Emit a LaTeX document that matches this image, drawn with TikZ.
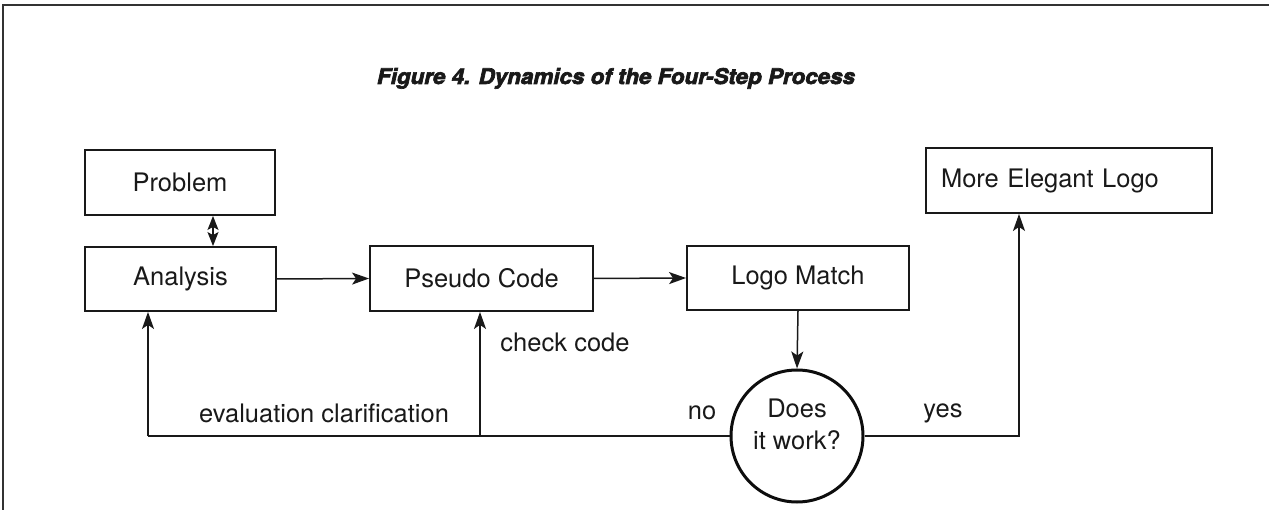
\documentclass[tikz,border=0pt]{standalone}
\usepackage{fontspec}
\setmainfont{TeX Gyre Heros}
\newfontfamily\heavyfont{TeX Gyre Heros}[FakeBold=3]
\usetikzlibrary{arrows.meta}
\begin{document}
\begin{tikzpicture}[x=1pt,y=-1pt,
  every node/.style={font=\fontsize{25.5}{30}\selectfont, text=black!90},
  stepbox/.style={draw=black!90, line width=1.9pt, rectangle, inner sep=0pt},
  flow/.style={draw=black!90, line width=1.5pt, -{Stealth[length=17pt,width=12pt,inset=4pt]}},
  plain/.style={draw=black!90, line width=1.5pt},
  lbl/.style={inner sep=0pt}
]
\useasboundingbox (0,0) rectangle (1269,510);
% page frame: top rule and left rule
\draw[black!80, line width=1.8pt] (3,510) -- (3,5) -- (1269,5);

% title
\node[inner sep=0pt, anchor=base] (title) at (616,84)
  {\resizebox{478pt}{16pt}{\heavyfont\bfseries\itshape Figure 4. Dynamics of the Four-Step Process}};

% process boxes
\node[stepbox, minimum width=190pt, minimum height=65pt] (problem) at (180,182.5) {Problem};
\node[stepbox, minimum width=191pt, minimum height=64pt] (analysis) at (180.5,279) {Analysis};
\node[stepbox, minimum width=223pt, minimum height=65pt] (pseudo) at (481.5,278.5) {Pseudo Code};
\node[stepbox, minimum width=222pt, minimum height=64pt] (match) at (798,278) {Logo Match};
\node[stepbox, minimum width=286pt, minimum height=65pt, text width=256pt, align=left, inner xsep=15pt] (elegant) at (1069,180.5) {More Elegant Logo};

% decision
\node[draw=black!95, line width=3pt, circle, minimum size=132pt, inner sep=0pt] (test) at (797,436) {};
\node[align=center, inner sep=0pt, font=\fontsize{25.5}{32}\selectfont] (testtext) at (797,424) {Does\\it work?};

% junction points of the feedback lines
\coordinate (jleft) at (148,436);
\coordinate (jmid) at (480,436);
\coordinate (jright) at (1019,436);

% forward flow
\draw[plain, {Stealth[length=14pt,width=11pt,inset=3pt]}-{Stealth[length=14pt,width=11pt,inset=3pt]}] (problem.south -| 213,0) -- (analysis.north -| 213,0);
\draw[flow] (analysis.east) -- (pseudo.west);
\draw[flow] (pseudo.east) -- (match.west);
\draw[flow] (match.south) -- (test.north);

% feedback ("no") and exit ("yes")
\draw[plain] (test.west) -- (jleft);
\draw[flow] (jleft) -- (jleft |- analysis.south);
\draw[flow] (jmid) -- (jmid |- pseudo.south);
\draw[flow] (test.east) -- (jright) -- (jright |- elegant.south);

% labels
\node[lbl] (l-eval) at (324,413) {evaluation clarification};
\node[lbl] (l-check) at (565,342) {check code};
\node[lbl] (l-no) at (702,413) {no};
\node[lbl] (l-yes) at (943,413) {yes};
\end{tikzpicture}
\end{document}
